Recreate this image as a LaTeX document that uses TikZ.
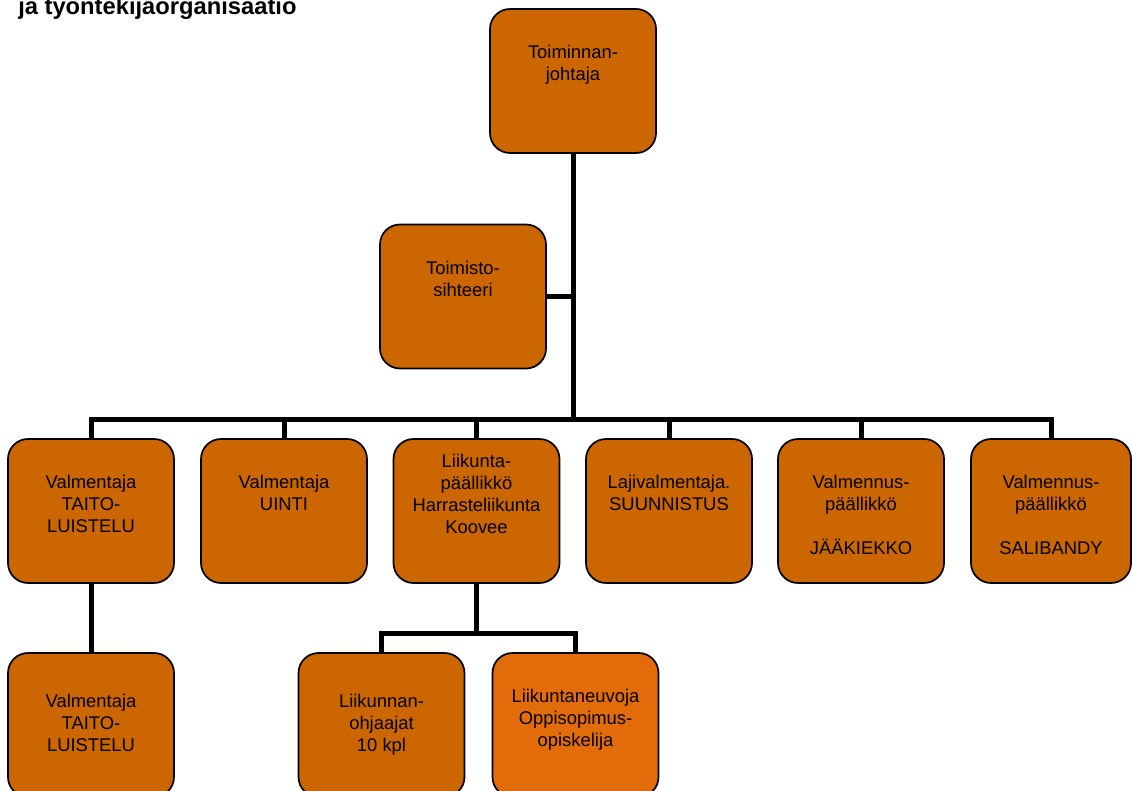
\documentclass[tikz,border=0pt]{standalone}
\usepackage{fontspec}
\setmainfont{Liberation Sans}
\usepackage{xcolor}
\usetikzlibrary{positioning}

\definecolor{boxorange}{HTML}{CC6600}
\definecolor{lightorange}{HTML}{E36C0A}

\begin{document}
\begin{tikzpicture}[
    x=0.75pt,
    y=-0.75pt,
    orgbox/.style={
        draw,
        line width=1.3pt,
        rounded corners=15pt,
        fill=boxorange,
        minimum width=124.5pt,
        minimum height=108pt,
        inner sep=0pt
    },
    boxtext/.style={
        anchor=north,
        yshift=-27.75pt,
        align=center,
        inner sep=0pt,
        font=\fontsize{13.8}{16.5}\selectfont
    },
    conn/.style={line width=3.75pt}
]

\useasboundingbox (0,0) rectangle (1132,791);
\clip (0,0) rectangle (1132,791);

% Title
\node[anchor=base west, inner sep=0pt, font=\bfseries\fontsize{17.8}{20}\selectfont] (title) at (18,15) {ja työntekijäorganisaatio};

% Nodes
\node[orgbox, label={[boxtext]north:Toiminnan-\\johtaja}] (tj) at (573,81) {};
\node[orgbox, label={[boxtext]north:Toimisto-\\sihteeri}] (ts) at (463,296.5) {};

\node[orgbox, label={[boxtext]north:Valmentaja\\TAITO-\\LUISTELU}] (vt) at (91,511) {};
\node[orgbox, label={[boxtext]north:Valmentaja\\UINTI}] (ui) at (284,511) {};
\node[orgbox, label={[boxtext, yshift=15.75pt]north:Liikunta-\\päällikkö\\Harrasteliikunta\\Koovee}] (lp) at (476.5,511) {};
\node[orgbox, label={[boxtext]north:Lajivalmentaja.\\SUUNNISTUS}] (lv) at (669,511) {};
\node[orgbox, label={[boxtext]north:Valmennus-\\päällikkö\\[16.5pt]JÄÄKIEKKO}] (jk) at (861,511) {};
\node[orgbox, minimum width=120pt, label={[boxtext]north:Valmennus-\\päällikkö\\[16.5pt]SALIBANDY}] (sb) at (1051,511) {};

\node[orgbox, label={[boxtext, yshift=-3.75pt]north:Valmentaja\\TAITO-\\LUISTELU}] (vt2) at (91,725) {};
\node[orgbox, label={[boxtext, yshift=-3.75pt]north:Liikunnan-\\ohjaajat\\10 kpl}] (lo) at (381.5,725) {};
\node[orgbox, fill=lightorange, label={[boxtext]north:Liikuntaneuvoja\\Oppisopimus-\\opiskelija}] (ln) at (575.5,725) {};

% Connections
\coordinate (bar) at (tj.south |- 0,420);
\coordinate (subbar) at (lp.south |- 0,633);

\draw[conn] (tj.south) -- (bar);
\draw[conn] (ts.east) -- (ts.east -| tj.south);
\foreach \n in {vt,ui,lp,lv,jk,sb}
    \draw[conn] (\n.north) |- (bar);

\draw[conn] (vt.south) -- (vt2.north);
\draw[conn] (lp.south) -- (subbar);
\foreach \n in {lo,ln}
    \draw[conn] (\n.north) |- (subbar);

\end{tikzpicture}
\end{document}
